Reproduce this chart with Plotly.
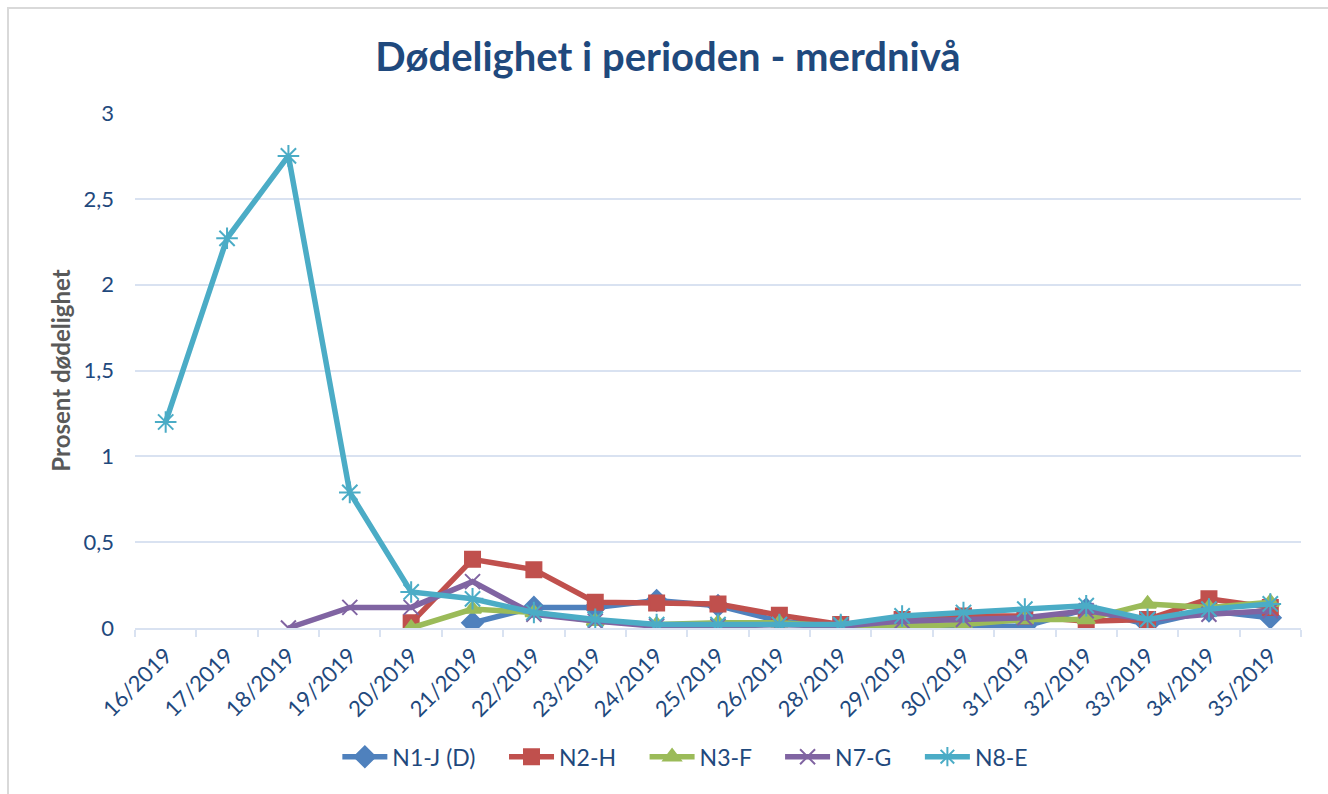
import plotly.graph_objects as go

weeks = ["16/2019", "17/2019", "18/2019", "19/2019", "20/2019", "21/2019", "22/2019",
         "23/2019", "24/2019", "25/2019", "26/2019", "28/2019", "29/2019", "30/2019",
         "31/2019", "32/2019", "33/2019", "34/2019", "35/2019"]

n1_j = [None, None, None, None, None, 0.03, 0.12, 0.12, 0.16, 0.13, 0.04, 0.01, 0.02, 0.01, 0.01, 0.11, 0.02, 0.10, 0.06]
n2_h = [None, None, None, None, 0.03, 0.40, 0.34, 0.15, 0.145, 0.14, 0.075, 0.02, 0.05, 0.07, 0.07, 0.04, 0.05, 0.17, 0.12]
n3_f = [None, None, None, None, 0.0, 0.11, 0.09, 0.04, 0.02, 0.03, 0.03, 0.01, 0.01, 0.02, 0.05, 0.05, 0.14, 0.12, 0.15]
n7_g = [None, None, 0.0, 0.12, 0.12, 0.27, 0.08, 0.04, 0.01, 0.01, 0.02, 0.01, 0.04, 0.05, 0.06, 0.10, 0.05, 0.08, 0.10]
n8_e = [1.20, 2.27, 2.75, 0.79, 0.21, 0.17, 0.09, 0.05, 0.02, 0.02, 0.02, 0.02, 0.07, 0.09, 0.11, 0.13, 0.05, 0.11, 0.14]

series = [
    ("N1-J (D)", n1_j, "#4F81BD", "diamond", 16),
    ("N2-H", n2_h, "#C0504D", "square", 15),
    ("N3-F", n3_f, "#9BBB59", "triangle-up", 15),
    ("N7-G", n7_g, "#8064A2", "x-thin-open", 15),
    ("N8-E", n8_e, "#4BACC6", "asterisk-open", 18),
]

FONT = "Lato"
DARK = "#1F497D"
PAD = "\u00a0" * 4

fig = go.Figure()
for i, (name, vals, color, sym, size) in enumerate(series):
    label = name + (PAD if i < len(series) - 1 else "")
    fig.add_trace(go.Scatter(
        x=weeks, y=vals, name=label, mode="lines+markers",
        line=dict(color=color, width=5.5),
        marker=dict(symbol=sym, size=size, color=color,
                    line=dict(color=color, width=2)),
        connectgaps=False,
    ))

fig.update_layout(
    width=1328, height=794,
    paper_bgcolor="white", plot_bgcolor="white",
    separators=",.",
    margin=dict(l=135, r=27, t=113, b=166),
    title=dict(text="<b>Dødelighet i perioden - merdnivå</b>", x=0.503, xanchor="center",
               y=0.928, yanchor="middle",
               font=dict(family=FONT, size=40, color=DARK)),
    font=dict(family=FONT, color=DARK),
    showlegend=True,
    legend=dict(orientation="h", x=0.472, xanchor="center", y=-0.25, yanchor="middle",
                font=dict(family=FONT, size=23, color=DARK), itemwidth=45),
    xaxis=dict(
        type="category", tickson="boundaries", showgrid=False, automargin=False,
        range=[-0.5, len(weeks) - 0.5],
        showline=True, linecolor="#D9E2F1", linewidth=2,
        ticks="outside", ticklen=7, tickcolor="#D9E2F1", tickwidth=2,
        tickangle=-45, tickfont=dict(family=FONT, size=22, color=DARK),
        ticklabelstandoff=4,
        zeroline=False,
    ),
    yaxis=dict(
        range=[0, 3], dtick=0.5, showgrid=True, gridcolor="#D9E2F1", gridwidth=2,
        showline=False, zeroline=False, ticks="", automargin=False,
        tickfont=dict(family=FONT, size=22, color=DARK),
        ticklabelstandoff=20,
        title=dict(text="<b>Prosent dødelighet</b>", font=dict(family=FONT, size=24, color="#595959"),
                   standoff=6),
    ),
    shapes=[dict(type="rect", xref="paper", yref="paper",
                 x0=-127 / 1166, x1=1.1, y0=-0.5, y1=1 + 105 / 515,
                 line=dict(color="#D9D9D9", width=2), fillcolor="rgba(0,0,0,0)", layer="below")],
)

fig.write_html("out.html", config={"displayModeBar": False},
               post_script="document.body.style.margin='0';")
